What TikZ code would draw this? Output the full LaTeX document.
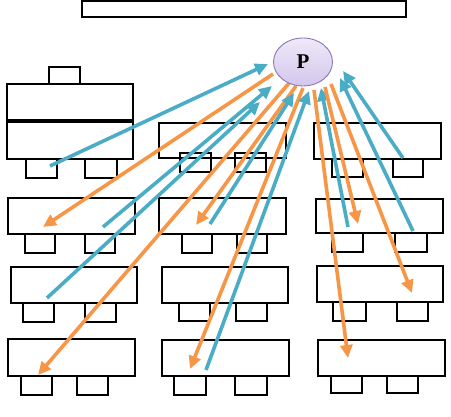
\documentclass[tikz,border=0pt]{standalone}
\usepackage{fontspec}
\setmainfont{Liberation Serif}
\usetikzlibrary{arrows.meta,shapes.geometric}
\definecolor{cblue}{HTML}{4BACC6}
\definecolor{corange}{HTML}{F79646}
\definecolor{pfill}{HTML}{D3C6EC}
\definecolor{pfilltop}{HTML}{EFE9F8}
\definecolor{pline}{HTML}{8C76B8}
\tikzset{
  box/.style={draw=black, line width=2.2pt, rectangle, inner sep=0pt, outer sep=0pt, anchor=north west},
  tobp/.style={draw=cblue, line width=3.6pt, -{Triangle[length=13pt,width=12pt]}},
  fromp/.style={draw=corange, line width=3.6pt, -{Triangle[length=13pt,width=12pt]}},
}
\newcommand{\bx}[5]{\node[box, minimum width=#4pt-#2pt, minimum height=#5pt-#3pt] (#1) at (#2,#3) {};}
\begin{document}
\begin{tikzpicture}[x=1pt,y=-1pt]
\useasboundingbox (0,0) rectangle (451,417);
% board
\bx{board}{82}{1}{406}{17}
% teacher desk
\bx{tchair}{49}{67}{80}{84}
\bx{tdesk}{7}{84}{133}{121}
% row 1
\bx{d1l}{7}{121}{133}{159}
\draw[line width=3.6pt] (tdesk.south west) -- (tdesk.south east);
\bx{c1la}{26}{159}{57}{178}
\bx{c1lb}{85}{159}{117}{178}
\bx{d1m}{159}{123}{286}{158}
\bx{c1ma}{180}{153}{211}{172}
\bx{c1mb}{235}{153}{266}{172}
\bx{d1r}{314}{123}{441}{159}
\bx{c1ra}{332}{159}{363}{177}
\bx{c1rb}{393}{159}{423}{177}
% row 2
\bx{d2l}{8}{198}{135}{234}
\bx{c2la}{25}{234}{55}{253}
\bx{c2lb}{85}{234}{115}{253}
\bx{d2m}{159}{198}{286}{234}
\bx{c2ma}{182}{234}{212}{253}
\bx{c2mb}{237}{234}{267}{253}
\bx{d2r}{316}{199}{443}{233}
\bx{c2ra}{332}{233}{363}{252}
\bx{c2rb}{395}{233}{427}{252}
% row 3
\bx{d3l}{11}{267}{137}{303}
\bx{c3la}{23}{303}{54}{322}
\bx{c3lb}{85}{303}{116}{322}
\bx{d3m}{162}{267}{288}{303}
\bx{c3ma}{179}{303}{210}{321}
\bx{c3mb}{236}{303}{267}{321}
\bx{d3r}{317}{266}{443}{302}
\bx{c3ra}{333}{302}{366}{321}
\bx{c3rb}{397}{302}{428}{321}
% row 4
\bx{d4l}{8}{339}{135}{376}
\bx{c4la}{21}{376}{52}{395}
\bx{c4lb}{77}{376}{108}{395}
\bx{d4m}{162}{340}{289}{376}
\bx{c4ma}{174}{376}{206}{395}
\bx{c4mb}{235}{376}{267}{395}
\bx{d4r}{318}{340}{445}{376}
\bx{c4ra}{331}{376}{362}{393}
\bx{c4rb}{387}{376}{418}{393}
% arrow end points
\coordinate (b1s) at (50,166);  \coordinate (b1e) at (268,64);
\coordinate (b2s) at (103,227); \coordinate (b2e) at (272,86);
\coordinate (b3s) at (47,298);  \coordinate (b3e) at (260,102);
\coordinate (b4s) at (210,224); \coordinate (b4e) at (294,93);
\coordinate (b5s) at (206,370); \coordinate (b5e) at (309,91);
\coordinate (b6s) at (348,227); \coordinate (b6e) at (321,88);
\coordinate (b7s) at (413,231); \coordinate (b7e) at (340,78);
\coordinate (b8s) at (403,158); \coordinate (b8e) at (343,71);
\coordinate (o1s) at (273,74);  \coordinate (o1e) at (43,227);
\coordinate (o2s) at (290,82);  \coordinate (o2e) at (38,375);
\coordinate (o3s) at (296,86);  \coordinate (o3e) at (196,225);
\coordinate (o4s) at (303,88);  \coordinate (o4e) at (190,369);
\coordinate (o5s) at (314,90);  \coordinate (o5e) at (348,358);
\coordinate (o6s) at (325,87);  \coordinate (o6e) at (358,224);
\coordinate (o7s) at (331,84);  \coordinate (o7e) at (412,293);
% arrows
\draw[fromp] (o1s) -- (o1e);
\draw[fromp] (o2s) -- (o2e);
\draw[tobp] (b1s) -- (b1e);
\draw[tobp] (b3s) -- (b3e);
\draw[tobp] (b2s) -- (b2e);
\draw[fromp] (o3s) -- (o3e);
\draw[tobp] (b4s) -- (b4e);
\draw[fromp] (o4s) -- (o4e);
\draw[tobp] (b5s) -- (b5e);
\draw[fromp] (o5s) -- (o5e);
\draw[tobp] (b6s) -- (b6e);
\draw[fromp] (o6s) -- (o6e);
\draw[fromp] (o7s) -- (o7e);
\draw[tobp] (b7s) -- (b7e);
\draw[tobp] (b8s) -- (b8e);
% P
\node[ellipse, draw=pline, line width=0.9pt, top color=pfilltop, bottom color=pfill,
      minimum width=59pt, minimum height=48pt, inner sep=0pt, font=\fontsize{21}{21}\selectfont\bfseries]
      (P) at (303,62) {P};
\end{tikzpicture}
\end{document}
